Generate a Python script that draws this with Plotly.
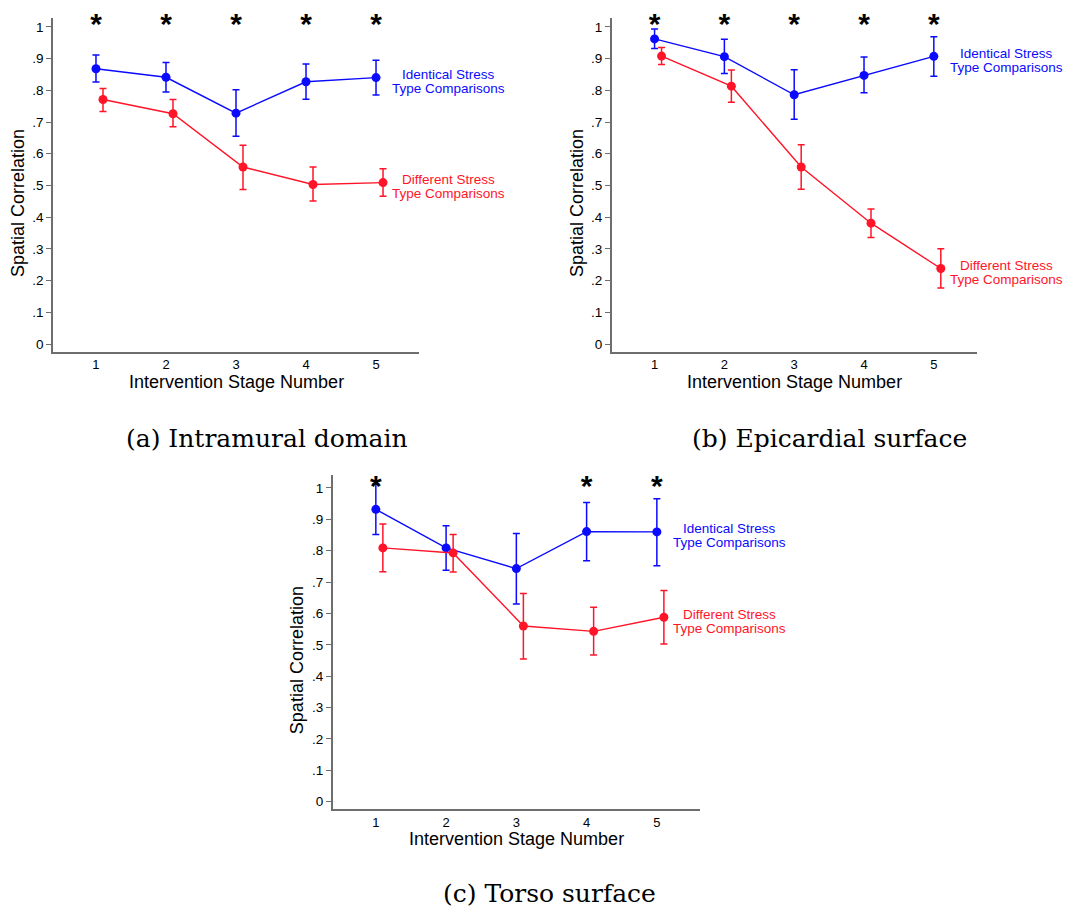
import plotly.graph_objects as go

# Intervention stages shared by all three panels
stages = [1, 2, 3, 4, 5]

# (a) Intramural domain
a_ident_mean = [0.868, 0.841, 0.728, 0.827, 0.840]
a_ident_low = [0.826, 0.795, 0.655, 0.772, 0.785]
a_ident_high = [0.911, 0.888, 0.802, 0.883, 0.895]
a_diff_mean = [0.771, 0.726, 0.558, 0.503, 0.509]
a_diff_low = [0.733, 0.685, 0.487, 0.451, 0.466]
a_diff_high = [0.806, 0.771, 0.627, 0.558, 0.553]
a_signif = [1, 2, 3, 4, 5]

# (b) Epicardial surface
b_ident_mean = [0.962, 0.906, 0.786, 0.847, 0.907]
b_ident_low = [0.932, 0.853, 0.709, 0.792, 0.844]
b_ident_high = [0.993, 0.961, 0.865, 0.905, 0.969]
b_diff_mean = [0.908, 0.813, 0.558, 0.381, 0.238]
b_diff_low = [0.881, 0.762, 0.488, 0.336, 0.177]
b_diff_high = [0.935, 0.864, 0.628, 0.426, 0.300]
b_signif = [1, 2, 3, 4, 5]

# (c) Torso surface
c_ident_mean = [0.932, 0.809, 0.743, 0.861, 0.860]
c_ident_low = [0.852, 0.738, 0.630, 0.768, 0.752]
c_ident_high = [1.013, 0.880, 0.855, 0.954, 0.966]
c_diff_mean = [0.809, 0.793, 0.560, 0.543, 0.588]
c_diff_low = [0.733, 0.732, 0.455, 0.468, 0.503]
c_diff_high = [0.885, 0.852, 0.664, 0.620, 0.673]
c_signif = [1, 4, 5]

y_tickvals = [0, 0.1, 0.2, 0.3, 0.4, 0.5, 0.6, 0.7, 0.8, 0.9, 1.0]
y_ticktext = ["0", ".1", ".2", ".3", ".4", ".5", ".6", ".7", ".8", ".9", "1"]

ident_label = ["Identical Stress", "Type Comparisons"]
diff_label = ["Different Stress", "Type Comparisons"]
captions = ["(a) Intramural domain", "(b) Epicardial surface", "(c) Torso surface"]

BLUE = "#0a0aff"
RED = "#ff1428"
AXIS_GREY = "#6e6e6e"
SANS = "Liberation Sans, Arial, sans-serif"
SERIF = "DejaVu Serif, serif"

W, H = 1083, 911
X_RANGE = (0.386, 5.614)


def px(x):
    return x / W


def py(y):
    return 1 - y / H


# panel frames in pixels: left, right, top, bottom, plus y range
panels = [
    dict(box=(53, 419, 18, 352), yr=(-0.0252, 1.028),
         ident=(a_ident_mean, a_ident_low, a_ident_high),
         diff=(a_diff_mean, a_diff_low, a_diff_high),
         signif=a_signif, ytitle_x=17.5, xtitle_y=382, caption=(267, 438)),
    dict(box=(611.7, 976.7, 18, 352), yr=(-0.0252, 1.028),
         ident=(b_ident_mean, b_ident_low, b_ident_high),
         diff=(b_diff_mean, b_diff_low, b_diff_high),
         signif=b_signif, ytitle_x=576.5, xtitle_y=382, caption=(829, 438)),
    dict(box=(332.7, 700, 475, 809.3), yr=(-0.0242, 1.0414),
         ident=(c_ident_mean, c_ident_low, c_ident_high),
         diff=(c_diff_mean, c_diff_low, c_diff_high),
         signif=c_signif, ytitle_x=296.5, xtitle_y=839, caption=(549, 893)),
]

DIFF_OFFSET = 0.1   # red series drawn slightly to the right of each stage
LABEL_X = 6.04      # horizontal centre of the series labels, in stage units

fig = go.Figure()
annotations = []
layout = {}

for i, p in enumerate(panels):
    n = "" if i == 0 else str(i + 1)
    xa, ya = "x" + n, "y" + n
    left, right, top, bottom = p["box"]
    label_xdom = (LABEL_X - X_RANGE[0]) / (X_RANGE[1] - X_RANGE[0])

    for (mean, low, high), color, dx, label in (
        (p["ident"], BLUE, 0.0, ident_label),
        (p["diff"], RED, DIFF_OFFSET, diff_label),
    ):
        xs = [s + dx for s in stages]
        fig.add_trace(go.Scatter(
            x=xs, y=mean, mode="lines+markers",
            line=dict(color=color, width=1.4),
            marker=dict(color=color, size=9),
            error_y=dict(type="data", symmetric=False,
                         array=[h - m for h, m in zip(high, mean)],
                         arrayminus=[m - l for m, l in zip(mean, low)],
                         color=color, thickness=1.5, width=3.5),
            xaxis=xa, yaxis=ya, showlegend=False, cliponaxis=False,
        ))
        # series label placed beside the last stage
        for k, line in enumerate(label):
            annotations.append(dict(
                x=label_xdom, y=mean[-1], xref=xa + " domain", yref=ya,
                text=line, showarrow=False, xanchor="center", yanchor="middle",
                yshift=(3 if k == 0 else -11),
                font=dict(family=SANS, size=13.5, color=color),
            ))

    # significance markers above the stages
    fig.add_trace(go.Scatter(
        x=p["signif"], y=[1.0] * len(p["signif"]), mode="text", text=["*"] * len(p["signif"]),
        textposition="middle center",
        textfont=dict(family=SANS, size=30, color="black", weight="bold"),
        xaxis=xa, yaxis=ya, showlegend=False, cliponaxis=False,
    ))

    layout["xaxis" + n] = dict(
        domain=[px(left), px(right)], range=list(X_RANGE), anchor=ya,
        tickvals=stages, ticktext=[str(s) for s in stages],
        showline=True, linecolor=AXIS_GREY, linewidth=1.5,
        ticks="", showgrid=False, zeroline=False, automargin=False,
        tickfont=dict(family=SANS, size=13, color="black"),
    )
    layout["yaxis" + n] = dict(
        domain=[py(bottom), py(top)], range=list(p["yr"]), anchor=xa,
        tickvals=y_tickvals, ticktext=y_ticktext,
        showline=True, linecolor=AXIS_GREY, linewidth=1.5,
        ticks="outside", ticklen=5, tickcolor=AXIS_GREY, tickwidth=1,
        showgrid=False, zeroline=False, automargin=False,
        tickfont=dict(family=SANS, size=13.5, color="black"),
    )

    annotations.append(dict(
        x=px(p["ytitle_x"]), y=py((top + bottom) / 2 + 18.5), xref="paper", yref="paper",
        text="Spatial Correlation", textangle=-90, showarrow=False,
        xanchor="center", yanchor="middle",
        font=dict(family=SANS, size=18, color="black"),
    ))
    annotations.append(dict(
        x=px(left + (right - left) / 2), y=py(p["xtitle_y"]), xref="paper", yref="paper",
        text="Intervention Stage Number", showarrow=False,
        xanchor="center", yanchor="middle",
        font=dict(family=SANS, size=18, color="black"),
    ))
    annotations.append(dict(
        x=px(p["caption"][0]), y=py(p["caption"][1]), xref="paper", yref="paper",
        text=captions[i], showarrow=False, xanchor="center", yanchor="middle",
        font=dict(family=SERIF, size=25, color="black"),
    ))

fig.update_layout(
    width=W, height=H,
    margin=dict(l=0, r=0, t=0, b=0),
    paper_bgcolor="white", plot_bgcolor="white",
    annotations=annotations,
    **layout,
)

fig.write_html("out.html")
